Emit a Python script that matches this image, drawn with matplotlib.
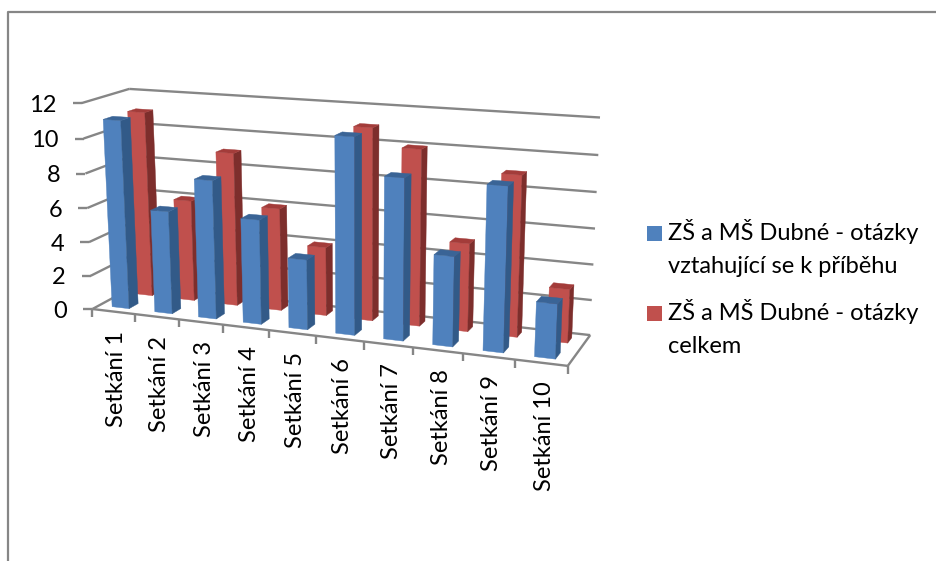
import matplotlib
matplotlib.use('Agg')
import matplotlib.pyplot as plt
from matplotlib.patches import Polygon, Rectangle
import numpy as np

plt.rcParams['font.family'] = ['Lato', 'DejaVu Sans']

categories = ['Setkání 1', 'Setkání 2', 'Setkání 3', 'Setkání 4', 'Setkání 5',
              'Setkání 6', 'Setkání 7', 'Setkání 8', 'Setkání 9', 'Setkání 10']
pribeh = [11, 6, 8, 6, 4, 11, 9, 5, 9, 3]
celkem = [11, 6, 9, 6, 4, 11, 10, 5, 9, 3]
y_ticks = [0, 2, 4, 6, 8, 10, 12]
legend_pribeh = ['ZŠ a MŠ Dubné - otázky', 'vztahující se k příběhu']
legend_celkem = ['ZŠ a MŠ Dubné - otázky', 'celkem']

GRID = '#868686'
BLUE = ('#4F81BD', '#325A88', '#3A6496')
RED = ('#C0504D', '#7D2E2C', '#A33C3A')
y_max = 12.0
FS = 17

# box corners (x, depth, height in 0..1) and where they land on the canvas
box = np.array([(0, 0, 0), (0, 0, 1), (0, 1, 0), (0, 1, 1), (1, 0, 0), (1, 1, 0), (1, 1, 1)], float)
canvas = np.array([(92, 308.5), (82, 103.5), (138, 285), (129, 88.5), (568, 366), (590, 335), (600, 117.5)], float)

# solve the 3x4 perspective camera, with last entry fixed to 1
rows, rhs = [], []
for (a, b, c), (u, v) in zip(box, canvas):
    rows.append([a, b, c, 1, 0, 0, 0, 0, -u*a, -u*b, -u*c])
    rows.append([0, 0, 0, 0, a, b, c, 1, -v*a, -v*b, -v*c])
    rhs += [u, v]
cam = np.linalg.lstsq(np.array(rows), np.array(rhs), rcond=None)[0]
cam = np.append(cam, 1.0).reshape(3, 4)


def proj(x, d, val):
    # x in category units, d depth 0..1, val in axis units
    p = cam @ np.array([x/len(categories), d, val/y_max, 1.0])
    return p[0]/p[2], p[1]/p[2]


fig = plt.figure(figsize=(9.36, 5.61), dpi=100)
ax = fig.add_axes([0, 0, 1, 1])
ax.set_xlim(0, 936)
ax.set_ylim(561, 0)
ax.axis('off')


def line(p, q, lw=1.7):
    ax.plot([p[0], q[0]], [p[1], q[1]], color=GRID, lw=lw, solid_capstyle='butt')


# outer frame
ax.plot([7.5, 7.5, 936], [561, 11.5, 11.5], color=GRID, lw=1.6)

n = len(categories)
for t in y_ticks:
    line(proj(0, 0, t), proj(0, 1, t))
    line(proj(0, 1, t), proj(n, 1, t))
    fx, fy = proj(0, 0, t)
    line((fx-9, fy), (fx, fy))
    ax.text(fx-25, fy+2, str(t), ha='right', va='center', fontsize=FS, color='black')

# floor edges
line(proj(0, 0, 0), proj(n, 0, 0))
line(proj(n, 0, 0), proj(n, 1, 0))

for i in range(n+1):
    fx, fy = proj(i, 0, 0)
    line((fx, fy), (fx, fy+8))
for i, name in enumerate(categories):
    fx, fy = proj(i+0.5, 0, 0)
    ax.text(fx+3, fy+19, name, rotation=90, ha='center', va='top', fontsize=FS, color='black')


def draw_bar(i, val, d0, d1, cols):
    x0, x1 = i+0.3, i+0.7
    front = [proj(x0, d0, 0), proj(x1, d0, 0), proj(x1, d0, val), proj(x0, d0, val)]
    side = [proj(x1, d0, 0), proj(x1, d1, 0), proj(x1, d1, val), proj(x1, d0, val)]
    top = [proj(x0, d0, val), proj(x1, d0, val), proj(x1, d1, val), proj(x0, d1, val)]
    for pts, c in zip((front, side, top), cols):
        ax.add_patch(Polygon(pts, closed=True, facecolor=c, edgecolor=c, lw=0.3, zorder=3))


# back row first so the front row covers it
for i, v in enumerate(celkem):
    draw_bar(i, v, 0.67, 0.85, RED)
for i, v in enumerate(pribeh):
    draw_bar(i, v, 0.15, 0.35, BLUE)

# legend
for top, c, lines in ((226, BLUE[0], legend_pribeh), (306, RED[0], legend_celkem)):
    ax.add_patch(Rectangle((647, top), 15, 15, facecolor=c, edgecolor='none'))
    for k, s in enumerate(lines):
        ax.text(668, top+14+k*33, s, ha='left', va='baseline', fontsize=FS, color='black')

fig.savefig('out.png', dpi=100)
